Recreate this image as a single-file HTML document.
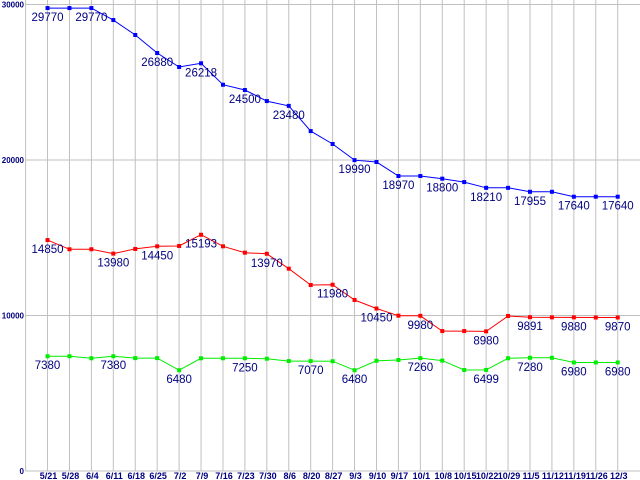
<!DOCTYPE html>
<html><head><meta charset="utf-8"><style>
html,body{margin:0;padding:0;background:#fff;}
svg{display:block;font-family:"Liberation Sans","DejaVu Sans",sans-serif;}
</style></head><body>
<svg id="chart" width="640" height="480" xmlns="http://www.w3.org/2000/svg">
<rect width="640" height="480" fill="#fff"/>
<g id="grid"></g>
<g id="axes"></g>
<g id="series"></g>
</svg>
<script>
const categories = ["5/21","5/28","6/4","6/11","6/18","6/25","7/2","7/9","7/16","7/23","7/30","8/6","8/20","8/27","9/3","9/10","9/17","10/1","10/8","10/15","10/22","10/29","11/5","11/12","11/19","11/26","12/3"];
const blueValues = [29770,29770,29770,29000,28040,26880,25980,26218,24840,24500,23790,23480,21860,21030,19990,19870,18970,18970,18800,18580,18210,18210,17955,17955,17640,17640,17640];
const redValues = [14850,14260,14260,13980,14280,14450,14470,15193,14450,14040,13970,13010,11960,11980,11000,10450,9990,9980,9000,9000,8980,9970,9891,9880,9880,9870,9870];
const greenValues = [7380,7380,7250,7380,7260,7260,6480,7250,7250,7250,7220,7070,7070,7060,6480,7090,7140,7260,7100,6495,6499,7250,7280,7280,6980,6980,6980];
const blueLabelIdx = [0,2,5,7,9,11,14,16,18,20,22,24,26];
const redLabelIdx = [0,3,5,7,10,13,15,17,20,22,24,26];
const greenLabelIdx = [0,3,6,9,12,14,17,20,22,24,26];
const yTicks = [0,10000,20000,30000];
const yTickLabels = ["0","10000","20000","30000"];

const NS="http://www.w3.org/2000/svg";
const X0=25.6, SLOT=21.93, Y0=471, YSCALE=466.5/30000;
const xPos=i=>X0+SLOT*(i+1);
const yPos=v=>Y0-v*YSCALE;
function mk(tag,attrs,parent){const e=document.createElementNS(NS,tag);for(const k in attrs)e.setAttribute(k,attrs[k]);parent.appendChild(e);return e;}
const grid=document.getElementById('grid'), axes=document.getElementById('axes'), series=document.getElementById('series');

categories.forEach((c,i)=>{
  const l=mk('line',{x1:xPos(i),x2:xPos(i),y1:0,y2:Y0,stroke:'#c0c0c0','stroke-width':1},grid);
  
  
  const t=mk('text',{x:xPos(i)+1,y:479,'text-anchor':'middle','font-size':'9','font-weight':'bold',fill:'#000080'},axes);
  t.textContent=c;
  
  
});
yTicks.forEach((v,i)=>{
  if(v>0){
    const l=mk('line',{x1:X0,x2:640,y1:yPos(v),y2:yPos(v),stroke:'#c0c0c0','stroke-width':1},grid);
    
    
  }
  const t=mk('text',{x:24,y:Math.max(6,yPos(v)+3),'text-anchor':'end','font-size':'8','font-weight':'bold',fill:'#000080'},axes);
  t.textContent=yTickLabels[i];
  
  
});
const ya=mk('line',{x1:X0,x2:X0,y1:0,y2:Y0,stroke:'#c0c0c0'},axes);


const xa=mk('line',{x1:X0,x2:640,y1:Y0,y2:Y0,stroke:'#c0c0c0'},axes);



function drawSeries(vals,labelIdx,color,name){
  const g=mk('g',{},series);
  
  
  const pts=vals.map((v,i)=>xPos(i).toFixed(1)+','+yPos(v).toFixed(1)).join(' ');
  const pl=mk('polyline',{points:pts,fill:'none',stroke:color,'stroke-width':1},g);
  
  
  vals.forEach((v,i)=>{
    const r=mk('rect',{x:xPos(i)-2,y:yPos(v)-2,width:4,height:4,fill:color},g);
    
    
  });
  labelIdx.forEach(i=>{
    const t=mk('text',{x:xPos(i),y:yPos(vals[i])+13,'text-anchor':'middle','font-size':'11.5',fill:'#000080'},g);
    t.textContent=vals[i];
    
    
  });
}
drawSeries(blueValues,blueLabelIdx,'#0000ff','blue-series');
drawSeries(redValues,redLabelIdx,'#ff0000','red-series');
drawSeries(greenValues,greenLabelIdx,'#00ee00','green-series');
</script>
</body></html>
